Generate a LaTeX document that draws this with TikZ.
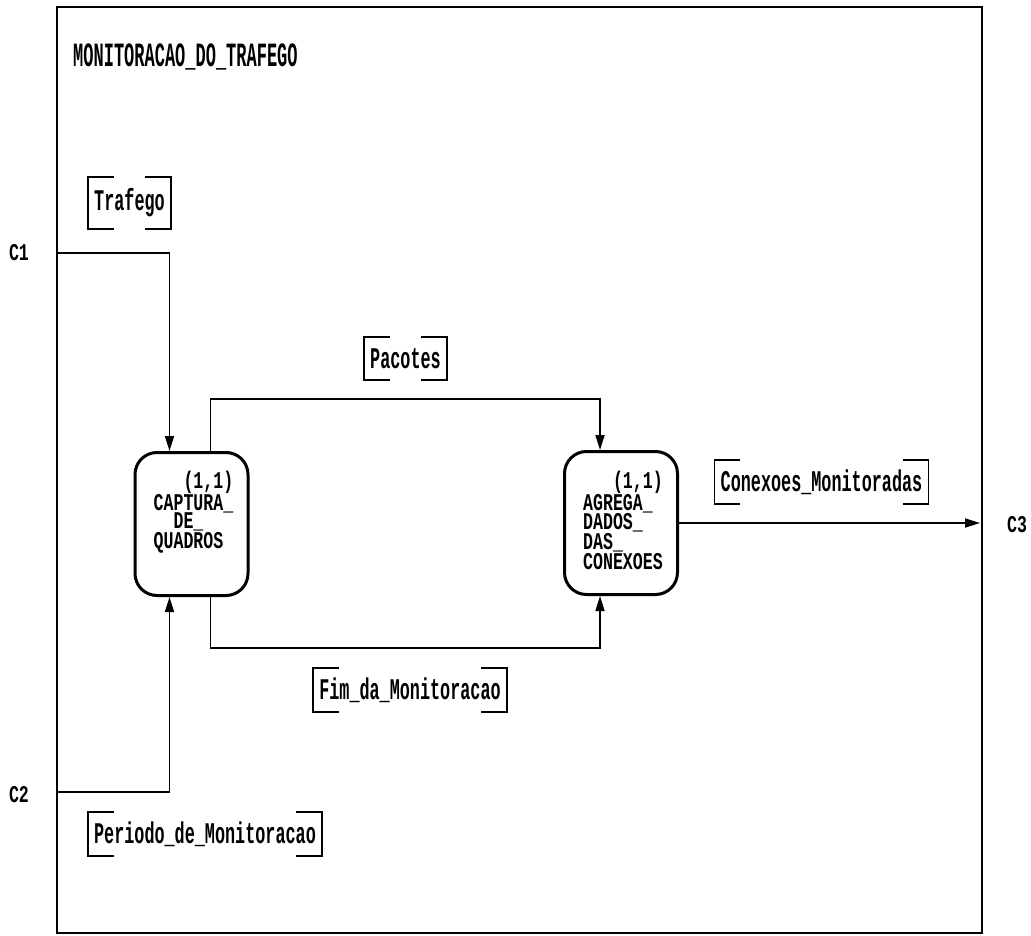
\documentclass[tikz,border=0pt]{standalone}
\usepackage{fontspec}
\usetikzlibrary{arrows.meta}
\newfontfamily\titlefont[FakeStretch=0.5]{Liberation Mono}
\newfontfamily\labfont[FakeStretch=0.56]{Liberation Mono}
\newfontfamily\boxfont[FakeStretch=0.69]{Liberation Mono}
\begin{document}
\begin{tikzpicture}[x=1pt,y=-1pt,
  frame/.style={draw,line width=2pt},
  conn/.style={line width=1.7pt},
  arr/.style={conn,-{Triangle[length=15pt,width=9pt]}},
  procbox/.style={draw,line width=3pt,rounded corners=22pt,minimum width=113pt,minimum height=143pt,inner sep=0pt},
  boxtxt/.style={inner sep=0pt,align=left,font=\boxfont\bfseries\fontsize{24}{18.5}\selectfont},
  lab/.style={inner xsep=6pt,inner ysep=0pt,minimum height=43pt,font=\labfont\bfseries\fontsize{30}{32}\selectfont},
  brk/.style={line width=1.8pt},
  clab/.style={inner sep=0pt,font=\boxfont\bfseries\fontsize{24}{26}\selectfont},
  ttl/.style={inner sep=0pt,anchor=west,font=\titlefont\bfseries\fontsize{34}{36}\selectfont}]
\useasboundingbox (0,0) rectangle (1031,936);
\draw[frame] (57,7) rectangle (982,933);
\node[ttl] (title) at (73,57) {MONITORACAO\_DO\_TRAFEGO};

% process boxes
\node[procbox] (b1) at (191.5,524) {};
\node[procbox] (b2) at (621,523) {};
\node[boxtxt,anchor=north west] (t1) at ([xshift=20pt,yshift=-19.5pt]b1.north west)
  {\hphantom{CAP}(1,1)\\CAPTURA\_\\\hphantom{CA}DE\_\\QUADROS};
\node[boxtxt,anchor=north west] (t2) at ([xshift=20pt,yshift=-20.5pt]b2.north west)
  {\hphantom{AGR}(1,1)\\AGREGA\_\\DADOS\_\\DAS\_\\CONEXOES};

% boundary labels
\node[clab] (lc1) at (19,253) {C1};
\node[clab] (lc2) at (19,795) {C2};
\node[clab] (lc3) at (1017,525) {C3};

% coordinates
\coordinate (c1) at (57,253);
\coordinate (c2) at (57,792);
\coordinate (c3) at (980,523);
\coordinate (ptop) at (405,399);
\coordinate (fbot) at (405,648);

% connectors
\draw[arr] (c1) -| ([xshift=-22pt]b1.north);
\draw[arr] (c2) -| ([xshift=-22pt]b1.south);
\draw[arr] ([xshift=19pt]b1.north) |- (ptop) -| ([xshift=-21pt]b2.north);
\draw[arr] ([xshift=19pt]b1.south) |- (fbot) -| ([xshift=-21pt]b2.south);
\draw[arr] (b2.east) -- (c3);

% arrow labels
\node[lab,minimum height=52pt] (trafego) at (129.5,203) {Trafego};
\node[lab] (pacotes) at (405.5,358.5) {Pacotes};
\node[lab] (conex) at (821.5,482) {Conexoes\_Monitoradas};
\node[lab] (fim) at (410,690) {Fim\_da\_Monitoracao};
\node[lab] (periodo) at (205,834) {Periodo\_de\_Monitoracao};

\foreach \n in {trafego,pacotes,conex,fim,periodo}{
  \draw[brk] ([xshift=26pt]\n.north west) -| (\n.south west) -- ++(26pt,0);
  \draw[brk] ([xshift=-26pt]\n.north east) -| (\n.south east) -- ++(-26pt,0);
}
\end{tikzpicture}
\end{document}
